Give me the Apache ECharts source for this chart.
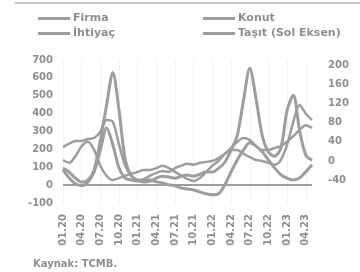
<!DOCTYPE html>
<html><head><meta charset="utf-8">
<script src="https://cdn.jsdelivr.net/npm/echarts@6/dist/echarts.min.js"></script>
<style>html,body{margin:0;padding:0;background:#fff}#c{width:360px;height:272px}</style>
</head><body><div id="c"></div>
<script>
const months = ["01.20","02.20","03.20","04.20","05.20","06.20","07.20","08.20","09.20","10.20","11.20","12.20",
"01.21","02.21","03.21","04.21","05.21","06.21","07.21","08.21","09.21","10.21","11.21","12.21",
"01.22","02.22","03.22","04.22","05.22","06.22","07.22","08.22","09.22","10.22","11.22","12.22",
"01.23","02.23","03.23","04.23","05.23"];
const leftTicks = [-100, 700, 100];
const rightTicks = [-40, 200, 40];
const firma = [2,-4,10,31,40,23,-10,-31,-40,-36,-31,-27,-23,-19,-19,-15,-10,-15,-23,-31,-38,-42,-36,-23,-10,0,15,23,23,15,8,2,0,-4,-8,2,34,82,117,99,86];
const konut = [-19,-36,-48,-52,-44,-23,23,69,34,-15,-36,-40,-42,-40,-40,-44,-46,-50,-52,-57,-59,-61,-65,-69,-71,-69,-50,-23,2,23,38,31,19,2,-15,-29,-36,-40,-36,-23,-8];
const ihtiyac = [29,36,42,42,46,48,61,86,82,34,-10,-31,-40,-38,-31,-25,-21,-23,-15,-10,-6,-8,-4,-2,0,6,15,27,40,48,44,31,23,23,27,31,40,52,65,75,69];
const tasit = [95,73,39,17,28,84,251,447,630,419,140,50,28,17,22,39,50,45,39,50,56,50,61,73,73,95,128,196,279,475,654,486,279,184,162,207,419,503,307,168,140];

const G = '#9d9d9d', T = '#8e8e8e';
const font = 'DejaVu Sans';
const chart = echarts.init(document.getElementById('c'), null, {renderer:'canvas'});
function lg(name, left, top){
  return {data:[name], left:left, top:top, icon:'rect', itemWidth:32, itemHeight:3, itemGap:0,
    textStyle:{color:T, fontFamily:font, fontWeight:'bold', fontSize:11, padding:[0,0,0,-2]}, padding:0};
}
const xBase = {type:'category', data:months, boundaryGap:false};
chart.setOption({
  animation:false,
  grid:[{left:63, width:249, top:60, height:143},{left:63, width:249, top:65.5, height:114.5}],
  legend:[lg('Firma',38,13), lg('Konut',203,13), lg('İhtiyaç',38,28), lg('Taşıt (Sol Eksen)',203,28)],
  xAxis:[
    Object.assign({}, xBase, {gridIndex:0, axisLine:{show:false, onZero:false}, axisTick:{show:false},
      splitLine:{show:true, interval:2, lineStyle:{color:'#f3f3f3', width:1}},
      axisLabel:{interval:2, rotate:90, margin:11, color:T, fontFamily:font, fontWeight:'bold', fontSize:10}}),
    Object.assign({}, xBase, {gridIndex:1, show:false})
  ],
  yAxis:[
    {type:'value', gridIndex:0, min:leftTicks[0], max:leftTicks[1], interval:leftTicks[2], position:'left',
      axisLine:{show:false}, axisTick:{show:false}, splitLine:{show:false},
      axisLabel:{margin:10, color:T, fontFamily:font, fontWeight:'bold', fontSize:10}},
    {type:'value', gridIndex:1, min:rightTicks[0], max:rightTicks[1], interval:rightTicks[2], position:'right',
      axisLine:{show:false}, axisTick:{show:false}, splitLine:{show:false},
      axisLabel:{margin:16, color:T, fontFamily:font, fontWeight:'bold', fontSize:10}}
  ],
  graphic:[
    {type:'line', shape:{x1:15,y1:3,x2:360,y2:3}, style:{stroke:'#b5b5b5', lineWidth:1.5}},
    {type:'text', left:33, top:259, style:{text:'Kaynak: TCMB.', fill:T, font:'bold 10px "DejaVu Sans"'}}
  ],
  series:[
    {name:'Konut', type:'line', xAxisIndex:1, yAxisIndex:1, data:konut, symbol:'none', clip:false, smooth:0.3,
      lineStyle:{color:G, width:3}, itemStyle:{color:G}},
    {name:'Firma', type:'line', xAxisIndex:1, yAxisIndex:1, data:firma, symbol:'none', clip:false, smooth:0.3,
      lineStyle:{color:G, width:2.5}, itemStyle:{color:G}},
    {name:'İhtiyaç', type:'line', xAxisIndex:1, yAxisIndex:1, data:ihtiyac, symbol:'none', clip:false, smooth:0.3,
      lineStyle:{color:G, width:2.5}, itemStyle:{color:G}},
    {name:'Taşıt (Sol Eksen)', type:'line', xAxisIndex:0, yAxisIndex:0, data:tasit, symbol:'none', smooth:0.3,
      lineStyle:{color:G, width:3}, itemStyle:{color:G},
      markLine:{silent:true, symbol:'none', label:{show:false}, data:[{yAxis:0}], lineStyle:{color:G, width:2, type:'solid'}}}
  ]
});
</script></body></html>
